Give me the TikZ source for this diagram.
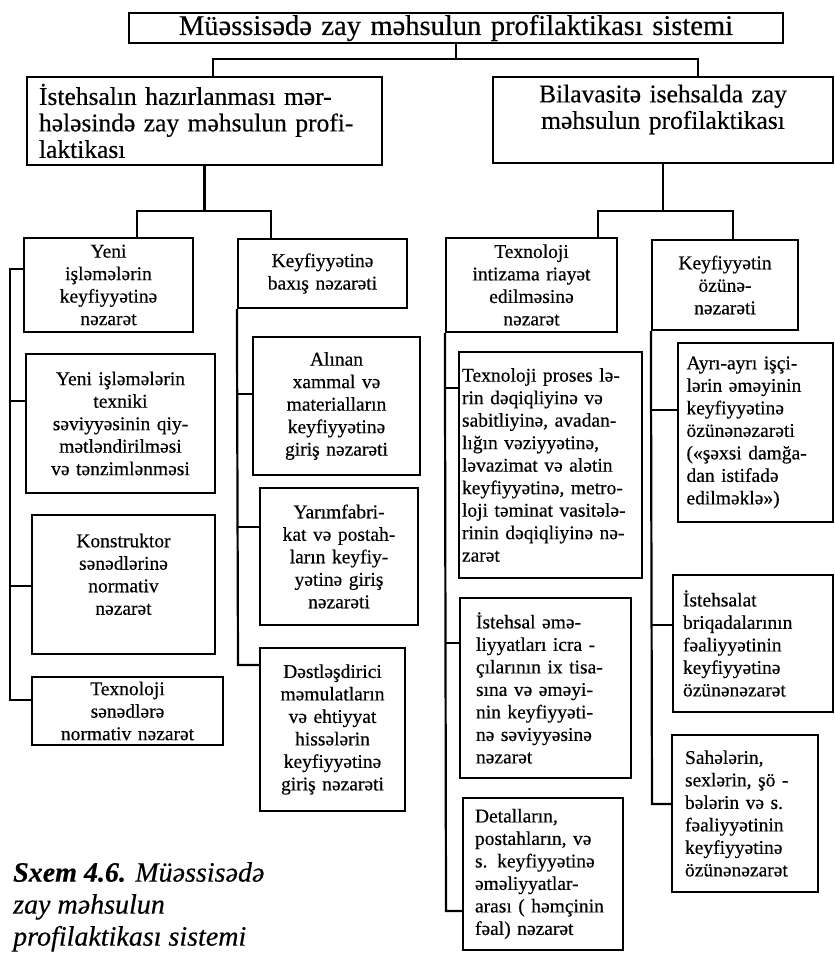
\documentclass[tikz,border=0pt]{standalone}
\usepackage{fontspec}
\setmainfont{Liberation Serif}[FakeBold=0.4]
\newcommand{\jl}[1]{\makebox[\hsize][s]{#1}}

\begin{document}
\begin{tikzpicture}[x=1pt,y=-1pt,
  box/.style={draw, line width=2.2pt, inner xsep=4pt, inner ysep=0.5pt, align=center},
  small/.style={font=\fontsize{19.5}{22.5}\selectfont},
  link/.style={line width=2.2pt}]
\useasboundingbox (0,0) rectangle (835,953);

\node[box, text width=646pt, minimum height=30pt, font=\fontsize{28.5}{29}\selectfont] (top) at (456,28) {Müəssisədə zay məhsulun profilaktikası sistemi};

\node[box, text width=331pt, inner xsep=12pt, minimum height=88pt, align=left, font=\fontsize{25.5}{26.5}\selectfont] (prep) at (204.5,121)
  {\jl{İstehsalın hazırlanması mər-}\\ \jl{hələsində zay məhsulun profi-}\\ laktikası};
\node[box, text width=332pt, minimum height=86pt, font=\fontsize{25.5}{26.5}\selectfont] (direct) at (663,120)
  {Bilavasitə isehsalda zay\\ məhsulun profilaktikası\\ ~};

\node[box, small, text width=161pt, minimum height=94pt] (yeni) at (108.5,285) {Yeni\\ işləmələrin\\ keyfiyyətinə\\ nəzarət};
\node[box, small, text width=181pt, minimum height=139pt] (texniki) at (120.5,423.5) {Yeni işləmələrin\\ texniki\\ səviyyəsinin qiy-\\ mətləndirilməsi\\ və tənzimlənməsi};
\node[box, small, text width=175pt, minimum height=139pt] (konstr) at (123.5,584.5) {Konstruktor\\ sənədlərinə\\ normativ\\ nəzarət\\[-2pt] ~};
\node[box, small, text width=183pt, minimum height=68pt] (texsen) at (127.5,711) {Texnoloji\\ sənədlərə\\ normativ nəzarət};

\node[box, small, text width=161pt, minimum height=69pt] (baxis) at (322.5,273.5) {Keyfiyyətinə\\ baxış nəzarəti};
\node[box, small, text width=159pt, minimum height=138pt] (alinan) at (336.5,406) {Alınan\\ xammal və\\ materialların\\ keyfiyyətinə\\ giriş nəzarəti};
\node[box, small, text width=150pt, minimum height=137pt] (yarim) at (339,556.5) {Yarımfabri-\\ kat və postah-\\ ların keyfiy-\\ yətinə giriş\\ nəzarəti};
\node[box, small, text width=137pt, minimum height=163pt] (destl) at (332.5,729.5) {Dəstləşdirici\\ məmulatların\\ və ehtiyyat\\ hissələrin\\ keyfiyyətinə\\ giriş nəzarəti};

\node[box, small, text width=163pt, minimum height=94pt] (tint) at (531.5,285) {Texnoloji\\ intizama riayət\\ edilməsinə\\ nəzarət};
\node[box, small, text width=177pt, inner xsep=3pt, minimum height=226pt, align=left] (proses) at (550.5,465)
  {\jl{Texnoloji proses lə-}\\ \jl{rin dəqiqliyinə və}\\ \jl{sabitliyinə, avadan-}\\ \jl{lığın vəziyyətinə,}\\ \jl{ləvazimat və alətin}\\ \jl{keyfiyyətinə, metro-}\\ \jl{loji təminat vasitələ-}\\ \jl{rinin dəqiqliyinə nə-}\\ zarət};
\node[box, small, text width=139pt, inner xsep=16pt, minimum height=180pt, align=left] (istehsal) at (545.5,688)
  {\jl{İstehsal əmə-}\\ \jl{liyyatları icra -}\\ \jl{çılarının ix tisa-}\\ \jl{sına və əməyi-}\\ \jl{nin keyfiyyəti-}\\ \jl{nə səviyyəsinə}\\ nəzarət};
\node[box, small, text width=136pt, inner xsep=12pt, minimum height=152pt, align=left] (detal) at (543,874)
  {Detalların,\\ postahların, və\\ s. keyfiyyətinə\\ əməliyyatlar-\\ arası ( həmçinin\\ fəal) nəzarət};

\node[box, small, text width=138pt, minimum height=90pt] (ozune) at (725,285) {Keyfiyyətin\\ özünə-\\ nəzarəti};
\node[box, small, text width=138pt, inner xsep=8.5pt, minimum height=179pt, align=left] (ayri) at (755.5,432.5)
  {\jl{Ayrı-ayrı işçi-}\\ \jl{lərin əməyinin}\\ keyfiyyətinə\\ özünənəzarəti\\ \jl{(«şəxsi damğa-}\\ \jl{dan istifadə}\\ edilməklə»)};
\node[box, small, text width=140pt, inner xsep=10pt, minimum height=137pt, align=left] (briq) at (753,643.5)
  {İstehsalat\\ briqadalarının\\ fəaliyyətinin\\ keyfiyyətinə\\ özünənəzarət};
\node[box, small, text width=120pt, inner xsep=13pt, minimum height=157pt, align=left] (sahe) at (745,813.5)
  {Sahələrin,\\ sexlərin, şö -\\ bələrin və s.\\ fəaliyyətinin\\ keyfiyyətinə\\ özünənəzarət};

\node[anchor=north west, align=left, inner sep=0pt, font=\fontsize{28}{32}\selectfont\itshape] (caption) at (13,862)
  {\textbf{Sxem 4.6.} Müəssisədə\\ zay məhsulun\\ profilaktikası sistemi};

\coordinate (j1) at (213,59);
\coordinate (j2) at (698,59);
\coordinate (j3) at (137,211);
\coordinate (j4) at (271,211);
\coordinate (j5) at (598,211);
\coordinate (j6) at (733,211);

\draw[link] (top.south) |- (j1) -- (j1 |- prep.north);
\draw[link] (top.south) |- (j2) -- (j2 |- direct.north);
\draw[link] (prep.south) |- (j3) -- (j3 |- yeni.north);
\draw[link] (prep.south) |- (j4) -- (j4 |- baxis.north);
\draw[link] (direct.south) |- (j5) -- (j5 |- tint.north);
\draw[link] (direct.south) |- (j6) -- (j6 |- ozune.north);

\coordinate (s11) at (10,269);
\coordinate (s12) at (10,401);
\coordinate (s13) at (10,586);
\coordinate (s14) at (10,700);
\draw[link] (s11 -| yeni.west) -- (s11) -- (s14) -- (s14 -| texsen.west);
\draw[link] (s12) -- (s12 -| texniki.west);
\draw[link] (s13) -- (s13 -| konstr.west);

\coordinate (s21) at (238,394);
\coordinate (s22) at (238,527);
\coordinate (s23) at (238,665);
\draw[link] (baxis.south west) -- (s23) -- (s23 -| destl.west);
\draw[link] (s21) -- (s21 -| alinan.west);
\draw[link] (s22) -- (s22 -| yarim.west);

\coordinate (s31) at (446,388);
\coordinate (s32) at (446,643);
\coordinate (s33) at (446,911);
\draw[link] (tint.south west) -- (s33) -- (s33 -| detal.west);
\draw[link] (s31) -- (s31 -| proses.west);
\draw[link] (s32) -- (s32 -| istehsal.west);

\coordinate (s41) at (652,410);
\coordinate (s42) at (652,625);
\coordinate (s43) at (652,804);
\draw[link] (ozune.south west) -- (s43) -- (s43 -| sahe.west);
\draw[link] (s41) -- (s41 -| ayri.west);
\draw[link] (s42) -- (s42 -| briq.west);
\end{tikzpicture}
\end{document}
